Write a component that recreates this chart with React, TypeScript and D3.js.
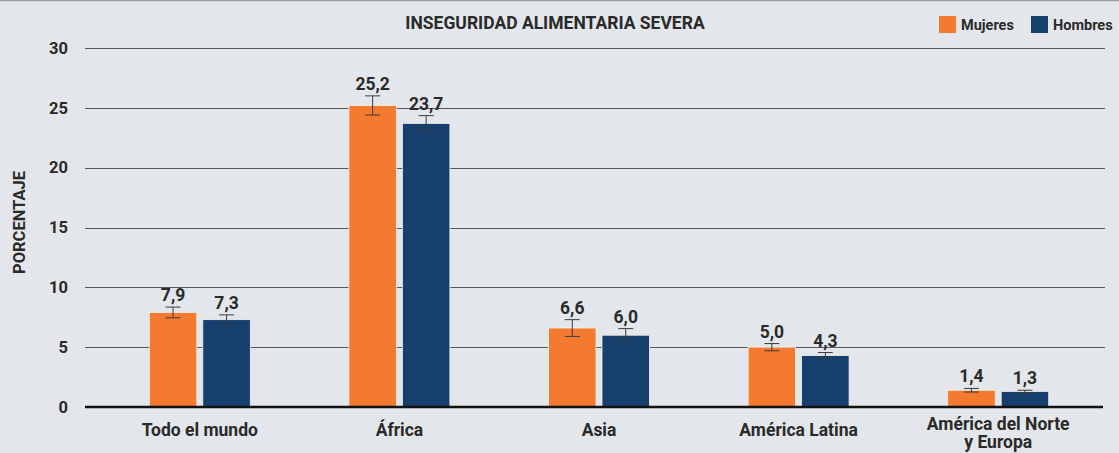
import * as React from 'react';
import { useRef, useEffect } from 'react';
import * as d3 from 'd3';

const categories = ['Todo el mundo', 'África', 'Asia', 'América Latina', 'América del Norte\ny Europa'];
const mujeres = [7.9, 25.2, 6.6, 5.0, 1.4];
const hombres = [7.3, 23.7, 6.0, 4.3, 1.3];
const mujeresErr = [0.45, 0.8, 0.7, 0.3, 0.15];
const hombresErr = [0.4, 0.65, 0.55, 0.25, 0.1];
const yTicks = [0, 5, 10, 15, 20, 25, 30];

const seriesNames = ['Mujeres', 'Hombres'];
const colors = ['#f47a30', '#173f6e'];

const WIDTH = 1119;
const HEIGHT = 453;
const FONT = 'Roboto, "Open Sans", sans-serif';

const App: React.FC = () => {
  const svgRef = useRef<SVGSVGElement>(null);

  useEffect(() => {
    if (!svgRef.current) return;
    const svg = d3.select(svgRef.current);
    svg.selectAll('*').remove();

    const margin = { top: 48, right: 21, bottom: 46, left: 100 };
    const innerWidth = WIDTH - margin.left - margin.right;
    const innerHeight = HEIGHT - margin.top - margin.bottom;

    svg.append('rect').attr('width', WIDTH).attr('height', HEIGHT).attr('fill', '#e3e7eb');
    svg.append('line')
      .attr('x1', 0).attr('x2', WIDTH).attr('y1', 0.5).attr('y2', 0.5)
      .attr('stroke', '#9a9da1').attr('stroke-width', 1.5);

    const g = svg.append('g').attr('transform', `translate(${margin.left},${margin.top})`);

    const x = d3.scaleBand().domain(categories).range([0, innerWidth]).padding(0);
    const y = d3.scaleLinear().domain([0, 30]).range([innerHeight, 0]);
    const barW = 47.5;
    const gap = 6;

    // gridlines
    g.selectAll('.grid')
      .data(yTicks.filter(t => t > 0))
      .enter()
      .append('line')
      .attr('x1', -15).attr('x2', innerWidth + 7)
      .attr('y1', d => Math.round(y(d)) + 0.5).attr('y2', d => Math.round(y(d)) + 0.5)
      .attr('stroke', '#55585c').attr('stroke-width', 1.2);

    g.selectAll('.ytick')
      .data(yTicks)
      .enter()
      .append('text')
      .attr('x', -32)
      .attr('y', d => y(d))
      .attr('dy', '0.35em')
      .attr('text-anchor', 'end')
      .attr('font-family', FONT)
      .attr('font-size', 16.5)
      .attr('font-weight', 700)
      .attr('fill', '#2a2a2a')
      .text(d => d);

    const series = [
      { values: mujeres, errs: mujeresErr, offset: -gap / 2 - barW, color: colors[0] },
      { values: hombres, errs: hombresErr, offset: gap / 2, color: colors[1] },
    ];

    series.forEach(s => {
      const cx = (i: number) => x(categories[i])! + x.bandwidth() / 2 + s.offset;
      g.selectAll(null)
        .data(s.values)
        .enter()
        .append('rect')
        .attr('x', (d, i) => cx(i))
        .attr('y', d => y(d))
        .attr('width', barW)
        .attr('height', d => innerHeight - y(d))
        .attr('fill', s.color)
        .attr('stroke', '#f3f1ee')
        .attr('stroke-width', 0.8);

      // error bars
      const eb = g.selectAll(null)
        .data(s.values)
        .enter()
        .append('g')
        .attr('transform', (d, i) => `translate(${cx(i) + barW / 2},0)`);
      eb.append('line')
        .attr('x1', 0).attr('x2', 0)
        .attr('y1', (d, i) => y(d + s.errs[i]))
        .attr('y2', (d, i) => y(d - s.errs[i]))
        .attr('stroke', '#3a3a3a').attr('stroke-width', 1);
      eb.append('line')
        .attr('x1', -7.5).attr('x2', 7.5)
        .attr('y1', (d, i) => y(d + s.errs[i]))
        .attr('y2', (d, i) => y(d + s.errs[i]))
        .attr('stroke', '#3a3a3a').attr('stroke-width', 1);
      eb.append('line')
        .attr('x1', -7.5).attr('x2', 7.5)
        .attr('y1', (d, i) => y(d - s.errs[i]))
        .attr('y2', (d, i) => y(d - s.errs[i]))
        .attr('stroke', '#3a3a3a').attr('stroke-width', 1);

      g.selectAll(null)
        .data(s.values)
        .enter()
        .append('text')
        .attr('x', (d, i) => cx(i) + barW / 2)
        .attr('y', (d, i) => y(d + s.errs[i]) - 6)
        .attr('text-anchor', 'middle')
        .attr('font-family', FONT)
        .attr('font-size', 17.5)
        .attr('font-weight', 700)
        .attr('fill', '#2a2a2a')
        .text(d => d.toFixed(1).replace('.', ','));
    });

    // baseline
    g.append('line')
      .attr('x1', -15).attr('x2', innerWidth + 5)
      .attr('y1', innerHeight).attr('y2', innerHeight)
      .attr('stroke', '#111').attr('stroke-width', 2.5);

    // category labels
    g.selectAll('.xlabel')
      .data(categories)
      .enter()
      .append('text')
      .attr('x', d => x(d)! + x.bandwidth() / 2)
      .attr('y', d => innerHeight + (d.includes('\n') ? 23 : 29))
      .attr('text-anchor', 'middle')
      .attr('font-family', FONT)
      .attr('font-size', 17.5)
      .attr('font-weight', 700)
      .attr('fill', '#2a2a2a')
      .each(function (d) {
        const lines = d.split('\n');
        d3.select(this).selectAll('tspan')
          .data(lines)
          .enter()
          .append('tspan')
          .attr('x', x(d)! + x.bandwidth() / 2)
          .attr('dy', (l, i) => (i === 0 ? 0 : 18))
          .text(l => l);
      });

    // axis title
    svg.append('text')
      .attr('transform', `translate(25,${margin.top + innerHeight / 2 - 5}) rotate(-90)`)
      .attr('text-anchor', 'middle')
      .attr('font-family', FONT)
      .attr('font-size', 16.5)
      .attr('font-weight', 700)
      .attr('fill', '#2a2a2a')
      .text('PORCENTAJE');

    // title
    svg.append('text')
      .attr('x', 555).attr('y', 29)
      .attr('text-anchor', 'middle')
      .attr('font-family', FONT)
      .attr('font-size', 17.5)
      .attr('font-weight', 700)
      .attr('fill', '#2a2a2a')
      .text('INSEGURIDAD ALIMENTARIA SEVERA');

    // legend
    const legendX = [939, 1031];
    seriesNames.forEach((name, i) => {
      svg.append('rect')
        .attr('x', legendX[i]).attr('y', 16)
        .attr('width', 17).attr('height', 17)
        .attr('fill', colors[i]);
      svg.append('text')
        .attr('x', legendX[i] + 22).attr('y', 29.5)
        .attr('font-family', FONT)
        .attr('font-size', 14.5)
        .attr('font-weight', 700)
        .attr('fill', '#2a2a2a')
        .text(name);
    });
  }, []);

  return (
    <div style={{ position: 'absolute', left: 0, top: 0, width: WIDTH, height: HEIGHT }}>
      <svg ref={svgRef} width={WIDTH} height={HEIGHT} style={{ display: 'block' }}></svg>
    </div>
  );
};

export default App;
